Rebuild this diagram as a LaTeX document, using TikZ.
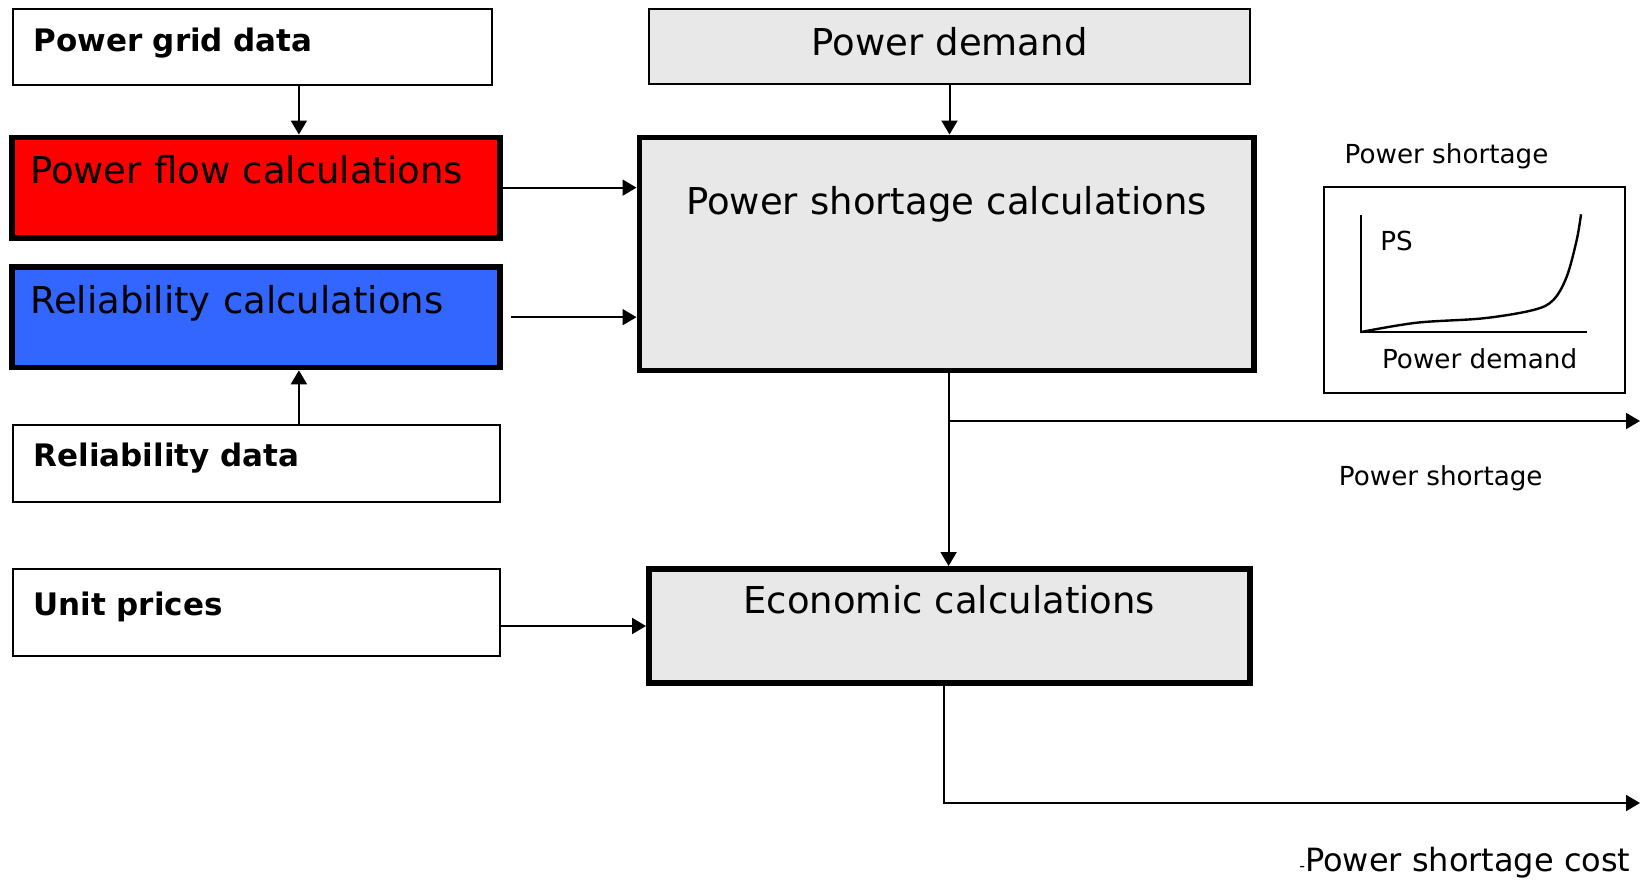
\documentclass[tikz,border=0pt]{standalone}
\usepackage{fontspec}
\setmainfont{DejaVu Sans}
\usetikzlibrary{arrows.meta}
\definecolor{calcgray}{HTML}{E8E8E8}
\definecolor{flowred}{HTML}{FF0000}
\definecolor{relblue}{HTML}{3366FF}

\begin{document}
\begin{tikzpicture}[x=0.5pt, y=-0.5pt,
    box/.style={draw, rectangle, anchor=north west, inner ysep=0pt, align=left, line width=1pt},
    bigtext/.style={font=\fontsize{18.5}{22}\selectfont},
    databox/.style={box, inner xsep=10.5pt, font=\fontsize{15.5}{18}\selectfont\bfseries},
    calcbox/.style={box, bigtext, line width=2.8pt},
    note/.style={anchor=base west, inner sep=0pt, font=\fontsize{13.1}{15}\selectfont},
    arr/.style={-{Triangle[length=7pt, width=8pt]}, line width=1pt}]

    \useasboundingbox (0,0) rectangle (1650,880);

    % input data and calculation boxes
    \node[databox, text width=218.9pt, text height=21.2pt, text depth=16.7pt] (grid) at (11.6,8.4) {Power grid data};
    \node[box, bigtext, fill=calcgray, align=center, inner xsep=5pt, text width=290.5pt, text height=23pt, text depth=14.35pt] (demand) at (648,8.4) {Power demand};
    \node[calcbox, fill=flowred, inner xsep=9.1pt, text width=225.9pt, text height=23.1pt, text depth=27.25pt] (flow) at (9,134.5) {Power flow calculations};
    \node[calcbox, fill=calcgray, align=center, inner xsep=3.6pt, text width=300.1pt, text height=38.6pt, text depth=77.9pt] (shortcalc) at (636.5,134.5) {Power shortage calculations};
    \node[calcbox, fill=relblue, inner xsep=9.1pt, text width=225.9pt, text height=23.1pt, text depth=27.25pt] (relcalc) at (9,264) {Reliability calculations};
    \node[databox, text width=222.6pt, text height=20.5pt, text depth=18pt] (reldata) at (11.6,424) {Reliability data};
    \node[databox, text width=222.6pt, text height=23pt, text depth=20.25pt] (prices) at (11.6,568) {Unit prices};
    \node[calcbox, fill=calcgray, align=center, inner xsep=3.6pt, text width=293.3pt, text height=22.3pt, text depth=34.9pt] (econ) at (646,566) {Economic calculations};

    % small chart of power shortage against demand
    \node[box, minimum width=150.3pt, minimum height=103.3pt, inner sep=0pt] (chart) at (1323.3,185.7) {};
    \node[note] (charttitle) at (1344.3,163.3) {Power shortage};
    \node[note] (psaxis) at (1380,250) {PS};
    \node[note] (demandaxis) at (1381.7,368.3) {Power demand};
    \coordinate (origin) at (1361,332);
    \draw[line width=1pt] (1361,215) -- (origin) -- (1587.3,332);
    \draw[line width=1.2pt] plot[smooth, tension=0.55] coordinates {(origin) (1416.7,322.7) (1483.3,318.3) (1533.3,310) (1553.3,300) (1566.7,276.7) (1576.7,240) (1581,214.3)};

    % connectors
    \coordinate (col) at (298.9,0);
    \draw[arr] (grid.south -| col) -- (flow.north -| col);
    \draw[arr] (reldata.north -| col) -- (relcalc.south -| col);
    \draw[arr] (demand.south) -- (demand.south |- shortcalc.north);
    \draw[arr] (flow.east) -- (flow.east -| shortcalc.west);
    \draw[arr] ([xshift=4pt]relcalc.east) -- (relcalc.east -| shortcalc.west);
    \draw[arr] ([xshift=1pt]shortcalc.south) -- ([xshift=1pt]shortcalc.south |- econ.north);
    \coordinate (psout) at (1640,421);
    \draw[arr] ([xshift=1pt]shortcalc.south |- psout) -- (psout);
    \draw[arr] (prices.east |- econ.west) -- (econ.west);
    \coordinate (costout) at (1640,803);
    \draw[arr] ([xshift=-2.8pt]econ.south) |- (costout);

    % output labels
    \node[note] (pslabel) at (1338.5,485) {Power shortage};
    \node[note, font=\fontsize{16}{19}\selectfont] (costlabel) at (1299,871.7) {{\fontsize{8}{9}\selectfont-}Power shortage cost};
\end{tikzpicture}
\end{document}
